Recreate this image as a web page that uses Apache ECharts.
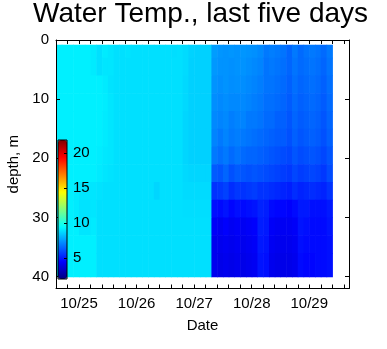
<!DOCTYPE html>
<html>
<head>
<meta charset="utf-8">
<script src="https://cdn.jsdelivr.net/npm/echarts@6/dist/echarts.min.js"></script>
<style>
  html, body { margin: 0; padding: 0; background: #fff; }
  #chart { width: 387px; height: 349px; }
</style>
</head>
<body>
<div id="chart"></div>
<script>
// Sample column edges, in days from 10/25 00:00
var timeEdges = [
  -0.4, -0.3, -0.2, -0.1, 0.0, 0.1, 0.2, 0.3, 0.4, 0.5,
  0.6, 0.7, 0.8, 0.9, 1.0, 1.1, 1.2, 1.3, 1.4, 1.5,
  1.6, 1.7, 1.8, 1.9, 2.0, 2.1, 2.2, 2.3, 2.4, 2.5,
  2.6, 2.7, 2.8, 2.9, 3.0, 3.1, 3.2, 3.3, 3.4, 3.5,
  3.6, 3.7, 3.8, 3.9, 4.0, 4.1, 4.2, 4.3, 4.4
];

// Depth layer edges, metres
var depthEdges = [0.8, 3, 6, 9, 12, 15, 18, 21, 24, 27, 30, 33, 36, 40];

// Water temperature (deg C), one row per depth layer, one value per time column
var temps = [
  [9.2,9.2,9.2,9.2,9.2,9.2,9.1, 8.9,9.1,9.0, 8.9,8.9,8.95,8.9,8.9,8.9,8.9,8.9,8.9,8.9,8.85,8.9, 8.8,8.65,8.6,8.6,8.6, 7.6,7.45,7.4,7.45,7.4,7.45,7.4,7.35,7.2, 6.9,7.0,6.9,6.8,6.5,6.9,6.6,6.8,6.9,6.8,6.6,6.9],
  [9.2,9.2,9.2,9.2,9.2,9.2,9.1, 8.9,9.0,9.0, 8.9,8.9,8.9,8.9,8.9,8.9,8.9,8.9,8.9,8.9,8.9,8.9, 8.8,8.6,8.6,8.6,8.6, 7.5,7.4,7.4,7.35,7.4,7.4,7.3,7.2,7.1, 6.8,6.9,6.8,6.7,6.5,6.8,6.6,6.7,6.8,6.7,6.5,6.8],
  [9.2,9.2,9.2,9.2,9.2,9.2,9.2, 9.2,9.1,8.95, 8.9,8.9,8.9,8.9,8.9,8.9,8.9,8.9,8.9,8.9,8.9,8.9, 8.75,8.6,8.6,8.6,8.6, 7.4,7.3,7.4,7.3,7.35,7.3,7.2,7.1,7.0, 6.8,6.8,6.7,6.6,6.4,6.7,6.5,6.6,6.7,6.6,6.4,6.7],
  [9.2,9.2,9.2,9.2,9.2,9.2,9.2, 9.2,9.15,9.0, 8.9,8.9,8.9,8.9,8.9,8.9,8.9,8.9,8.9,8.9,8.9,8.9, 8.75,8.6,8.6,8.6,8.6, 7.3,7.2,7.3,7.2,7.2,7.2,7.1,7.0,6.9, 6.7,6.7,6.6,6.5,6.3,6.6,6.4,6.5,6.6,6.5,6.3,6.6],
  [9.2,9.2,9.2,9.2,9.2,9.2,9.2, 9.2,9.1,9.0, 8.9,8.9,8.9,8.9,8.9,8.9,8.9,8.9,8.9,8.9,8.9,8.9, 8.7,8.6,8.6,8.6,8.6, 7.2,7.1,7.2,7.0,7.1,7.1,6.9,6.9,6.8, 6.6,6.6,6.4,6.4,6.2,6.5,6.3,6.4,6.5,6.4,6.2,6.5],
  [9.2,9.2,9.2,9.2,9.2,9.2,9.2, 9.2,9.1,9.0, 8.9,8.9,8.9,8.9,8.9,8.9,8.9,8.9,8.9,8.9,8.9,8.9, 8.7,8.6,8.6,8.6,8.6, 7.1,6.9,7.1,6.9,7.0,6.9,6.8,6.7,6.6, 6.5,6.4,6.3,6.3,6.1,6.4,6.2,6.3,6.4,6.3,6.1,6.4],
  [9.2,9.2,9.2,9.2,9.2,9.2,9.2, 9.15,9.05,9.0, 8.9,8.9,8.9,8.9,8.9,8.9,8.9,8.9,8.9,8.9,8.9,8.9, 8.7,8.6,8.6,8.6,8.6, 6.9,6.7,6.9,6.6,6.8,6.6,6.5,6.5,6.4, 6.3,6.2,6.1,6.0,5.9,6.2,6.0,6.1,6.2,6.1,5.9,6.2],
  [9.2,9.2,9.2,9.2,9.2,9.2,9.2, 9.1,9.0,8.95, 8.9,8.9,8.9,8.9,8.9,8.9,8.9,8.9,8.9,8.9,8.9,8.9, 8.75,8.7,8.7,8.7,8.7, 6.3,6.2,6.5,6.1,6.3,6.2,6.1,6.2,6.1, 6.0,5.9,5.8,5.7,5.6,5.9,5.7,5.8,5.9,5.8,5.6,6.0],
  [9.2,9.2,9.2,9.1,9.0,9.0,9.0, 8.95,8.9,8.9, 8.9,8.9,8.9,8.9,8.9,8.9,8.9,8.7,8.9,8.9,8.9,8.9, 8.8,8.8,8.8,8.8,8.8, 5.5,5.6,5.8,5.4,5.6,5.5,5.6,5.7,5.5, 5.5,5.4,5.3,5.2,5.1,5.4,5.2,5.3,5.4,5.3,5.2,5.5],
  [9.2,9.2,9.2,9.1,8.95,8.95,9.0, 8.9,8.9,8.9, 8.9,8.9,8.9,8.9,8.9,8.9,8.9,8.9,8.9,8.9,8.9,8.9, 8.85,8.85,8.85,8.85,8.85, 4.8,4.7,4.9,4.6,4.8,4.7,4.8,4.9,5.2, 5.1,4.7,4.6,4.6,4.5,4.7,5.0,5.0,4.8,4.8,4.8,5.0],
  [9.2,9.2,9.2,9.2,9.0,9.0,9.1, 8.9,8.9,8.9, 8.9,8.9,8.9,8.9,8.9,8.9,8.9,8.9,8.9,8.9,8.9,8.9, 8.9,8.9,8.9,8.9,8.9, 4.4,4.3,4.5,4.3,4.4,4.3,4.4,4.5,5.1, 5.0,4.4,4.3,4.3,4.3,4.4,4.9,4.8,4.7,4.7,4.7,4.9],
  [9.2,9.2,9.2,9.2,9.2,9.2,9.2, 8.9,8.9,8.9, 8.9,8.9,8.9,8.9,8.9,8.9,8.9,8.9,8.9,8.9,8.9,8.9, 8.9,8.9,8.9,8.9,8.9, 4.2,4.2,4.3,4.2,4.3,4.2,4.3,4.4,5.0, 4.9,4.3,4.2,4.2,4.2,4.3,4.8,4.7,4.7,4.7,4.7,4.8],
  [9.2,9.2,9.2,9.2,9.2,9.2,9.2, 8.9,8.9,8.9, 8.9,8.9,8.9,8.9,8.9,8.9,8.9,8.9,8.9,8.9,8.9,8.9, 8.9,8.9,8.9,8.9,8.9, 4.2,4.1,4.2,4.1,4.2,4.1,4.2,4.3,4.9, 4.8,4.2,4.1,4.1,4.1,4.2,4.7,4.6,4.6,4.7,4.7,4.8]
];

// Date axis: labelled days and tick marks (days from 10/25 00:00)
var dayTicks = [0, 1, 2, 3, 4];
var dateLabels = ['10/25', '10/26', '10/27', '10/28', '10/29'];
var dayMinorTicks = [
  -0.4, -0.2, 0, 0.2, 0.4, 0.6, 0.8, 1, 1.2, 1.4, 1.6, 1.8, 2, 2.2, 2.4,
  2.6, 2.8, 3, 3.2, 3.4, 3.6, 3.8, 4, 4.2, 4.4, 4.6
];
var depthTicks = [0, 10, 20, 30, 40];
var colorTicks = [5, 10, 15, 20];

// Colour scale limits and the jet colormap
var cMin = 2.05, cMax = 21.9;
var jet = ['#00007F', '#0000FF', '#007FFF', '#00FFFF', '#7FFF7F',
           '#FFFF00', '#FF7F00', '#FF0000', '#7F0000'];

var cells = [];
for (var r = 0; r < temps.length; r++) {
  for (var c = 0; c < temps[r].length; c++) {
    cells.push([timeEdges[c], timeEdges[c + 1], depthEdges[r], depthEdges[r + 1], temps[r][c]]);
  }
}

var FONT = 'Liberation Sans, Arial, Helvetica, sans-serif';
var black = '#000';

function frameAxis(extra) {
  var base = {
    gridIndex: 0,
    type: 'value',
    z: 3,
    axisLine: { show: true, onZero: false, lineStyle: { color: black, width: 1 } },
    axisTick: { show: true, inside: true, length: 4, lineStyle: { color: black } },
    splitLine: { show: false }
  };
  return Object.assign(base, extra);
}

var chart = echarts.init(document.getElementById('chart'), null, { renderer: 'canvas' });

chart.setOption({
  animation: false,
  backgroundColor: '#fff',
  title: {
    text: 'Water Temp., last five days',
    left: 33,
    top: 0,
    padding: 0,
    textStyle: { fontFamily: FONT, fontSize: 28, fontWeight: 'normal', color: black }
  },
  grid: [
    { left: 56, top: 40, width: 293, height: 248.5, show: false,
      containLabel: false, outerBoundsMode: 'none' },
    { left: 58, top: 140, width: 9, height: 139, show: true, z: 5,
      containLabel: false, outerBoundsMode: 'none',
      borderColor: black, borderWidth: 1, backgroundColor: 'transparent' }
  ],
  visualMap: {
    type: 'continuous',
    min: cMin,
    max: cMax,
    dimension: 4,
    seriesIndex: 0,
    calculable: false,
    hoverLink: false,
    left: 58,
    top: 140,
    padding: 0,
    itemWidth: 9,
    itemHeight: 139,
    inRange: { color: jet },
    z: 4
  },
  xAxis: [
    frameAxis({
      position: 'bottom', min: -0.4, max: 4.69,
      name: 'Date', nameLocation: 'middle', nameGap: 30,
      nameTextStyle: { fontFamily: FONT, fontSize: 15, color: black },
      axisTick: { show: true, inside: true, length: 4, customValues: dayMinorTicks,
                  lineStyle: { color: black } },
      axisLabel: {
        customValues: dayTicks, margin: 8,
        fontFamily: FONT, fontSize: 15, color: black,
        formatter: function (v) { return dateLabels[dayTicks.indexOf(Math.round(v))]; }
      }
    }),
    frameAxis({
      position: 'top', min: -0.4, max: 4.69,
      axisTick: { show: true, inside: true, length: 4, customValues: dayMinorTicks,
                  lineStyle: { color: black } },
      axisLabel: { show: false }
    }),
    { gridIndex: 1, type: 'value', min: 0, max: 1, show: false }
  ],
  yAxis: [
    frameAxis({
      position: 'left', inverse: true, min: 0, max: 42,
      name: 'depth, m', nameLocation: 'middle', nameGap: 35,
      nameTextStyle: { fontFamily: FONT, fontSize: 15, color: black },
      axisTick: { show: true, inside: true, length: 4, customValues: depthTicks,
                  lineStyle: { color: black } },
      axisLabel: { customValues: depthTicks, margin: 7,
                   fontFamily: FONT, fontSize: 15, color: black }
    }),
    {
      gridIndex: 1, type: 'value', position: 'right',
      min: cMin, max: cMax, z: 6,
      axisLine: { show: false, onZero: false },
      axisTick: { show: true, inside: true, length: 3, customValues: colorTicks,
                  lineStyle: { color: black } },
      axisLabel: { customValues: colorTicks, margin: 6,
                   fontFamily: FONT, fontSize: 15, color: black },
      splitLine: { show: false }
    },
    frameAxis({
      position: 'right', inverse: true, min: 0, max: 42,
      axisTick: { show: true, inside: true, length: 4, customValues: depthTicks,
                  lineStyle: { color: black } },
      axisLabel: { show: false }
    })
  ],
  series: [
    {
      type: 'custom',
      xAxisIndex: 0,
      yAxisIndex: 0,
      silent: true,
      encode: { x: [0, 1], y: [2, 3] },
      data: cells,
      renderItem: function (params, api) {
        var a = api.coord([api.value(0), api.value(2)]);
        var b = api.coord([api.value(1), api.value(3)]);
        return {
          type: 'rect',
          shape: { x: a[0], y: a[1], width: b[0] - a[0] + 0.6, height: b[1] - a[1] + 0.6 },
          style: { fill: api.visual('color') }
        };
      }
    }
  ]
});
</script>
</body>
</html>
